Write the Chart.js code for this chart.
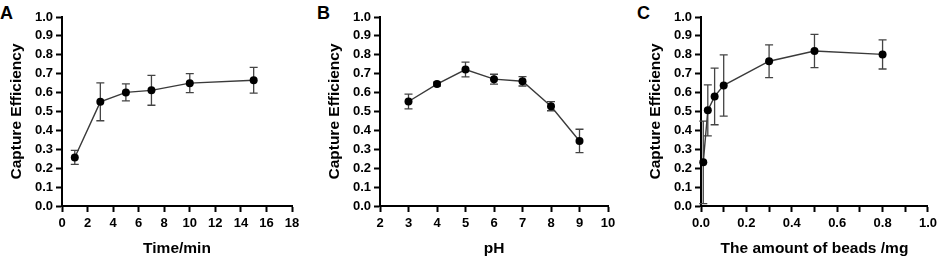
<!DOCTYPE html>
<html><head><meta charset="utf-8">
<script src="https://cdn.jsdelivr.net/npm/chart.js@4"></script>
<style>
html,body{margin:0;padding:0;background:#fff;}
#wrap{position:relative;width:941px;height:258px;overflow:hidden;background:#fff}
.pane{position:absolute;top:0;height:258px}
.lbl{position:absolute;top:4px;font:bold 18px "Liberation Sans",Arial,sans-serif;line-height:18px;color:#000}
</style></head><body>
<div id="wrap">
<div class="lbl" style="left:0px">A</div>
<div class="lbl" style="left:317px">B</div>
<div class="lbl" style="left:637px">C</div>
<div class="pane" style="left:0px"><canvas id="cA" width="312" height="258"></canvas></div>
<div class="pane" style="left:312px"><canvas id="cB" width="310" height="258"></canvas></div>
<div class="pane" style="left:622px"><canvas id="cC" width="319" height="258"></canvas></div>
</div>
<script>
// ---- Data ----
const timeMin = [1, 3, 5, 7, 10, 15];
const effTime = [0.257, 0.551, 0.601, 0.612, 0.650, 0.665];
const errTime = [0.037, 0.100, 0.045, 0.079, 0.050, 0.068];

const pHValues = [3, 4, 5, 6, 7, 8, 9];
const effPH = [0.553, 0.645, 0.722, 0.671, 0.660, 0.528, 0.344];
const errPH = [0.039, 0.010, 0.039, 0.026, 0.025, 0.024, 0.062];

const beadsMg = [0.01, 0.03, 0.06, 0.1, 0.3, 0.5, 0.8];
const effBeads = [0.231, 0.506, 0.580, 0.638, 0.766, 0.820, 0.802];
const errBeads = [0.218, 0.135, 0.150, 0.162, 0.087, 0.088, 0.077];

const yAxisTitle = 'Capture Efficiency';
const xTitleA = 'Time/min';
const xTitleB = 'pH';
const xTitleC = 'The amount of beads /mg';

const FONT = '"Liberation Sans", Arial, Helvetica, sans-serif';

const errorBars = {
  id: 'errorBars',
  beforeDatasetsDraw(chart, args, opts) {
    const {ctx, scales: {x, y}} = chart;
    const ds = chart.data.datasets[0];
    const errs = opts.errors || [];
    ctx.save();
    ctx.strokeStyle = opts.color || '#444';
    ctx.lineWidth = 1.3;
    ds.data.forEach((p, i) => {
      const e = errs[i];
      if (e == null) return;
      const px = x.getPixelForValue(p.x);
      const top = y.getPixelForValue(p.y + e);
      const bot = y.getPixelForValue(p.y - e);
      ctx.beginPath();
      ctx.moveTo(px, top); ctx.lineTo(px, bot);
      ctx.moveTo(px - 4, top); ctx.lineTo(px + 4, top);
      ctx.moveTo(px - 4, bot); ctx.lineTo(px + 4, bot);
      ctx.stroke();
    });
    ctx.restore();
  }
};

function makeChart(id, xs, ys, errs, xTitle, xOpts, padLeft, padRight) {
  const pts = xs.map((v, i) => ({x: v, y: ys[i]}));
  return new Chart(document.getElementById(id), {
    type: 'scatter',
    data: {datasets: [{
      data: pts,
      showLine: true,
      borderColor: '#3a3a3a',
      borderWidth: 1.4,
      pointRadius: 4,
      pointHoverRadius: 4,
      pointBackgroundColor: '#000',
      pointBorderColor: '#000',
      pointBorderWidth: 0,
      clip: false
    }]},
    plugins: [errorBars],
    options: {
      responsive: false,
      animation: false,
      events: [],
      layout: {padding: {left: padLeft, right: padRight, top: 17, bottom: 0}},
      plugins: {
        legend: {display: false},
        tooltip: {enabled: false},
        errorBars: {errors: errs, color: '#444'}
      },
      scales: {
        x: {
          type: 'linear',
          min: xOpts.min, max: xOpts.max,
          afterFit: s => { s.height = 52; },
          ticks: {
            stepSize: xOpts.step, autoSkip: false, maxRotation: 0,
            padding: 4, color: '#000',
            font: {family: FONT, size: 13, weight: 'bold'},
            callback: xOpts.cb
          },
          grid: {drawOnChartArea: false, drawTicks: true, tickLength: 6, tickWidth: 2, tickColor: '#000'},
          border: {display: true, color: '#000', width: 2},
          title: {display: true, text: xTitle, color: '#000',
                  font: {family: FONT, size: 15.5, weight: 'bold'},
                  padding: {top: 0, bottom: 0}}
        },
        y: {
          min: 0, max: 1,
          afterFit: s => { s.width = 62; },
          ticks: {
            stepSize: 0.1, autoSkip: false, padding: 3, color: '#000',
            font: {family: FONT, size: 13, weight: 'bold'},
            callback: v => Number(v).toFixed(1)
          },
          grid: {drawOnChartArea: false, drawTicks: true, tickLength: 6, tickWidth: 2, tickColor: '#000'},
          border: {display: true, color: '#000', width: 2},
          title: {display: true, text: yAxisTitle, color: '#000',
                  font: {family: FONT, size: 15.5, weight: 'bold'},
                  padding: {top: 7, bottom: 0}}
        }
      }
    }
  });
}

makeChart('cA', timeMin, effTime, errTime, xTitleA,
  {min: 0, max: 18, step: 2, cb: v => String(v)}, 0, 20);
makeChart('cB', pHValues, effPH, errPH, xTitleB,
  {min: 2, max: 10, step: 1, cb: v => String(v)}, 6, 14);
makeChart('cC', beadsMg, effBeads, errBeads, xTitleC,
  {min: 0, max: 1, step: 0.1, cb: (v, i) => (i % 2 === 0 ? Number(v).toFixed(1) : '')}, 17, 11);
</script>
</body></html>
